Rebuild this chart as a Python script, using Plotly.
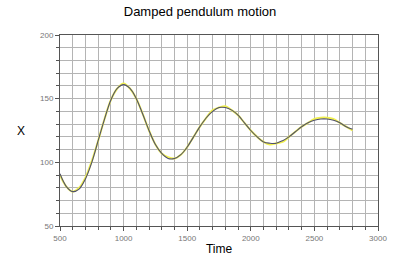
import plotly.graph_objects as go

time = [500, 550, 600, 650, 700, 750, 800, 850, 900, 950, 1000, 1050, 1100, 1150,
        1200, 1250, 1300, 1350, 1400, 1450, 1500, 1550, 1600, 1650, 1700, 1750,
        1800, 1850, 1900, 1950, 2000, 2050, 2100, 2150, 2200, 2250, 2300, 2350,
        2400, 2450, 2500, 2550, 2600, 2650, 2700, 2750, 2800]
x_data = [91, 81, 77, 79, 87, 100, 117, 134, 149, 158, 161, 158, 150, 138,
          125, 114, 107, 103, 103, 106, 112, 120, 128, 135, 140, 143,
          143, 141, 137, 131, 125, 120, 116, 115, 115, 117, 120, 124,
          128, 131, 133, 134, 134, 133, 131, 128, 126]
x_fit = [90, 81, 77, 80, 88, 101, 117, 134, 149, 158, 162, 158, 150, 138,
         125, 114, 107, 104, 103, 106, 112, 120, 128, 135, 141, 143,
         144, 141, 137, 131, 125, 120, 116, 114, 115, 116, 120, 124,
         128, 131, 134, 135, 135, 134, 131, 128, 125]

fig = go.Figure()
fig.add_trace(go.Scatter(x=time, y=x_fit, mode="lines", line=dict(color="#f0f050", width=2, shape="spline"),
                         hoverinfo="skip", showlegend=False))
fig.add_trace(go.Scatter(x=time, y=x_data, mode="lines", line=dict(color="#50506e", width=1.1, shape="spline"),
                         showlegend=False))

font = "Liberation Sans, Arial"
grid = "#b4b4b4"
axis_common = dict(showline=True, linecolor="#555555", linewidth=1, mirror=True,
                   ticks="outside", ticklen=4, tickcolor="#555555",
                   tickfont=dict(family=font, size=8, color="#777777"),
                   showgrid=True, gridcolor=grid, gridwidth=1, zeroline=False, automargin=False)

fig.update_xaxes(range=[500, 3000], dtick=500, tick0=500,
                 minor=dict(dtick=100, ticks="outside", ticklen=3, tickcolor="#555555",
                            showgrid=True, gridcolor=grid, gridwidth=1),
                 title=dict(text="Time", font=dict(family=font, size=12, color="#000000"),
                            standoff=4),
                 **axis_common)
fig.update_yaxes(range=[50, 200], dtick=50, tick0=50,
                 minor=dict(dtick=10, ticks="outside", ticklen=3, tickcolor="#555555",
                            showgrid=True, gridcolor=grid, gridwidth=1),
                 **axis_common)

fig.add_annotation(text="X", x=-0.14, y=125, xref="x domain", yref="y", showarrow=False,
                   font=dict(family=font, size=12, color="#000000"))

fig.update_layout(
    width=400, height=256,
    margin=dict(l=60, r=22, t=35, b=30),
    paper_bgcolor="white", plot_bgcolor="white",
    title=dict(text="Damped pendulum motion", x=0.5, xanchor="center", y=0.955, yanchor="middle",
               font=dict(family=font, size=13, color="#000000")),
)

fig.write_html("out.html")
